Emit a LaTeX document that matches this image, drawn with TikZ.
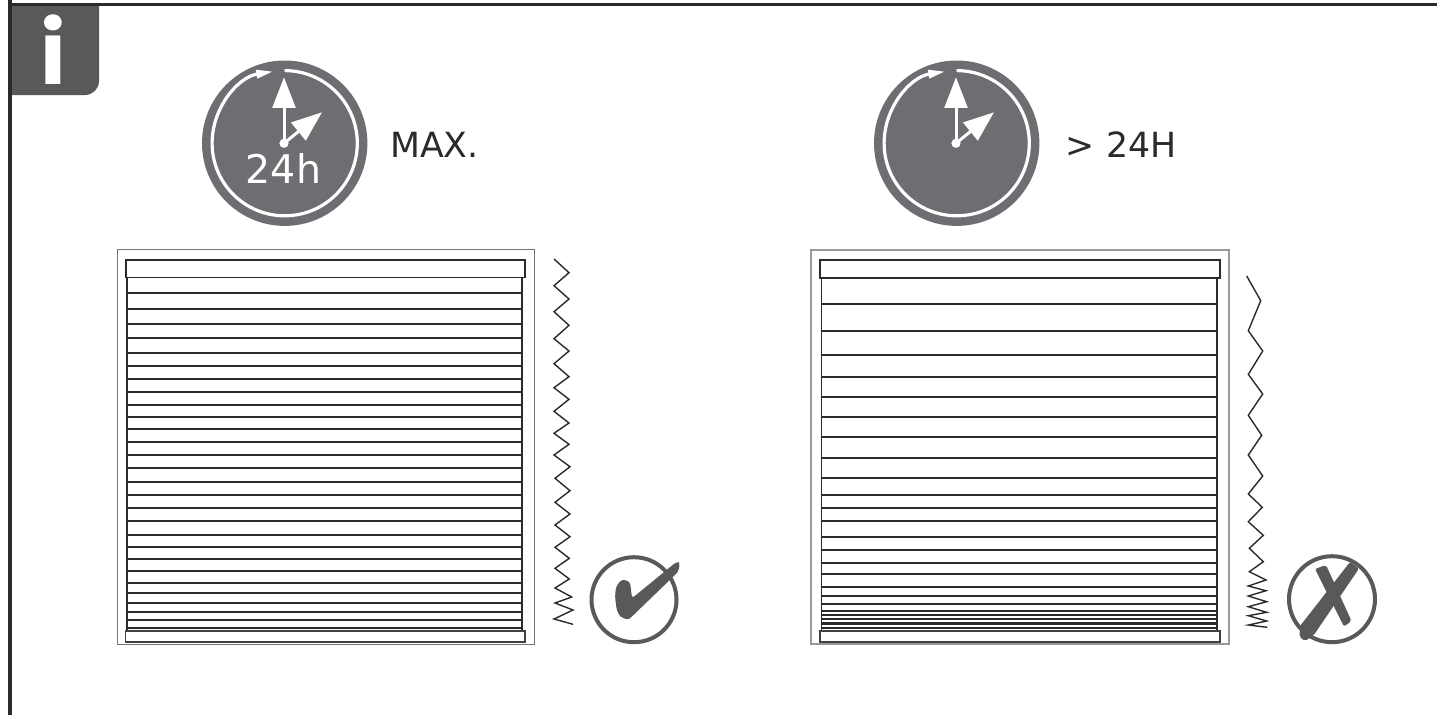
\documentclass[tikz,border=0pt]{standalone}
\usepackage{fontspec}
\setmainfont{DejaVu Sans}
\newfontfamily\tabfont{Poppins}
\usepackage{xcolor}
\usetikzlibrary{arrows.meta}
\definecolor{clockgray}{HTML}{6D6E71}
\definecolor{markgray}{HTML}{58595B}
\definecolor{inkdark}{HTML}{2B2A29}
\begin{document}
\begin{tikzpicture}[
    x=1pt, y=-1pt,
    border/.style={draw=inkdark, line width=3.6pt},
    frame/.style={draw=black!55, line width=1.3pt},
    rail/.style={draw=inkdark, line width=1.9pt},
    footbar/.style={draw=black!75, line width=1.2pt, fill=white},
    slat/.style={draw=inkdark, line width=1.7pt},
    zigzag/.style={draw=inkdark, line width=1.4pt, line join=miter},
    hand/.style={draw=white, line width=3pt, -{Triangle[length=30.5pt, width=22.7pt]}},
    sweep/.style={draw=white, line width=3.2pt, -{Triangle[length=17pt, width=8pt]}},
    caption/.style={anchor=base west, inner sep=0pt, text=inkdark, font=\fontsize{34.7}{40}\selectfont}
]
\useasboundingbox (0,0) rectangle (1437,715);
% Page border and info tab
\fill[markgray, rounded corners=14pt] (-20,-20) -| (99,95) -- (-20,95) -- cycle;
\fill[white] (-20,-20) rectangle (9,715);
\fill[white] (-20,-20) rectangle (1437,3);
\draw[border] (10,0) -- (10,715);
\draw[border] (8,4.3) -- (1437,4.3);
\node[anchor=base, inner sep=0pt, text=white, font=\tabfont\bfseries\fontsize{87}{87}\selectfont] (tabletter) at (53.5,84.3) {i};
% Clocks
\foreach \cx/\clockname in {284.7/leftclock, 956.7/rightclock} {
    \coordinate (\clockname) at (\cx,143.2);
    \fill[clockgray] (\clockname) circle (82.7);
    \draw[sweep] (\clockname) ++(-90:72.6) arc (-90:261:72.6);
    \coordinate (hub) at (\cx-0.7,143.3);
    \fill[white] (hub) circle (4.6);
    \draw[hand] (hub) -- ++(0,-66);
    \draw[hand] (hub) -- ++(38,-31);
}
% Labels
\node[anchor=base, inner sep=0pt, text=white, font=\fontsize{39.5}{40}\selectfont] (hourlabel) at (283.5,183.3) {24h};
\node[caption] (maxlabel) at (390,157.3) {MAX.};
\node[caption] (overlabel) at (1065,157.3) {>\hspace{1pt} 24H};
% Left blind
\draw[frame] (117.7,249.4) rectangle (534.3,644.3);
\draw[rail] (127,277) -- (127,631);
\draw[rail] (522.3,277) -- (522.3,631);
\foreach \slaty in {293.3,309,324,338,352.7,365.7,379,391.7,404.7,416.7,429.3,441.7,455,468.3,482,494.7,508.3,521.3,535,547,559,571.3,582.7,593.3,603,612.3,620.3,628.3}
    \draw[slat] (127,\slaty) -- (522.3,\slaty);
\draw[rail, fill=white] (125.7,260) rectangle (525,277.5);
\draw[footbar] (125.7,631) rectangle (525,642);
% Right blind
\draw[frame, draw=black!40, line width=1.8pt] (811,249.6) rectangle (1228.7,644.3);
\draw[rail] (821.5,278) -- (821.5,631);
\draw[rail] (1217,278) -- (1217,631);
\foreach \slaty in {304,330.7,355,376.7,397,417,437,457.7,478.3,495,507.7,521,537,550,562.7,574.3,586.7,595.7,603.7,610.7,615,619,627.7}
    \draw[slat] (821.5,\slaty) -- (1217,\slaty);
\draw[slat, line width=3pt] (821.5,623.7) -- (1217,623.7);
\draw[rail, fill=white] (820,260) rectangle (1220,278);
\draw[footbar] (820,631) rectangle (1220,642);
% Fold profiles
\draw[zigzag] (554,259) -- (569,272.7) -- (554,285.7) -- (569,299) -- (554,311.7) -- (569,325.3) -- (554,338.7) -- (569,351) -- (554,363.7) -- (569,376.7) -- (554,387.7) -- (569,399.3) -- (554,411.3) -- (569,423) -- (554,433.3) -- (569,444.3) -- (554,455) -- (570,466.7) -- (555,478.3) -- (570,490.7) -- (555,502.3) -- (570,514) -- (555,525) -- (570,536.7) -- (555,547.3) -- (569.3,558.3) -- (555,568.3) -- (569.3,579) -- (555,588) -- (571.7,597) -- (555,603) -- (573,610) -- (554,619) -- (573,624.3);
\draw[zigzag] (1246.7,276) -- (1260.7,300.7) -- (1248.3,330.7) -- (1262.7,351) -- (1248.3,374.3) -- (1262.7,394) -- (1248.3,415.3) -- (1261.7,435.3) -- (1248.3,455) -- (1262.7,476) -- (1248.3,494) -- (1262.3,507.3) -- (1248.3,521.7) -- (1263.3,535.3) -- (1249.3,548.3) -- (1263.3,561.7) -- (1249.3,571.7) -- (1266,580) -- (1248.3,586) -- (1266,590.7) -- (1248.3,596) -- (1266.7,601.7) -- (1248.3,606.7) -- (1266.7,612.3) -- (1248.3,615.7) -- (1266.7,621) -- (1248.3,625) -- (1267.3,627.3);
% Check mark
\draw[markgray, line width=4pt] (634,599.7) circle (42.5);
\fill[markgray, rounded corners=3pt] (616,586.7) -- (621.7,579.3) -- (630,581.7) -- (632,598.3) -- (676.7,561.7) -- (680,562.7) -- (678.3,571.7) -- (628.3,620) -- (620,616.7) -- (616.7,610) -- (615,596.7) -- cycle;
% Cross mark
\draw[markgray, line width=4pt] (1332,599.2) circle (43);
\fill[markgray, rounded corners=2pt] (1315,569) -- (1326,565) -- (1351.5,621) -- (1344,626.5) -- cycle;
\fill[markgray, rounded corners=2pt] (1350,562) -- (1359,568.5) -- (1313.5,635.5) -- (1305,641) -- (1299.5,637) -- (1300,626) -- cycle;
\end{tikzpicture}
\end{document}
